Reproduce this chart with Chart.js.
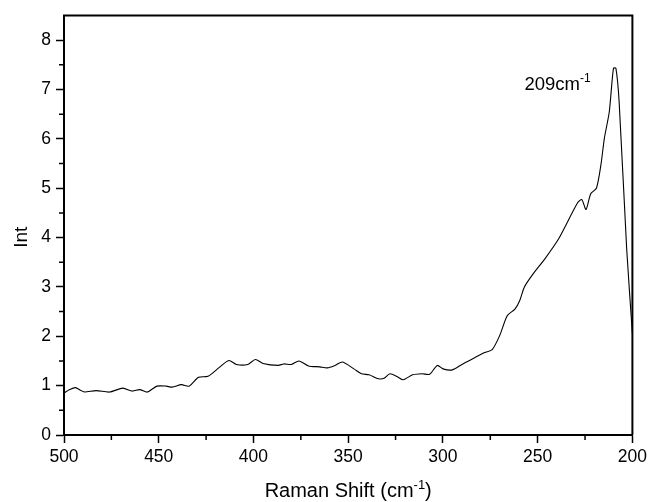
<!DOCTYPE html>
<html>
<head>
<meta charset="utf-8">
<script src="https://cdn.jsdelivr.net/npm/chart.js@4.4.0/dist/chart.umd.min.js"></script>
<style>
  html, body { margin: 0; padding: 0; background: #fff; }
  #wrap { width: 651px; height: 502px; }
</style>
</head>
<body>
<div id="wrap"><canvas id="chart" width="651" height="502"></canvas></div>
<script>
// Raman spectrum
const ramanShift = [
  500, 497, 494, 491, 489, 483, 476, 469, 464, 460, 456, 451, 446, 443, 438, 434,
  429, 424, 418, 413, 409, 403, 399, 395, 387, 384, 380, 376, 371, 365, 361, 357,
  353, 347, 343, 339, 334, 331, 328, 324, 321, 316, 311, 307, 303, 300, 295, 290,
  283, 278, 274, 270, 266, 262, 259.5, 257, 252.5, 246, 239, 229, 226.7, 224.5,
  222, 219, 216.6, 214.8, 212.2, 210, 208.7, 207, 203, 200
];
const intensity = [
  0.85, 0.92, 0.96, 0.90, 0.87, 0.90, 0.87, 0.95, 0.89, 0.92, 0.87, 0.99, 0.99, 0.97, 1.02, 0.99,
  1.17, 1.19, 1.37, 1.51, 1.43, 1.43, 1.53, 1.45, 1.41, 1.44, 1.43, 1.50, 1.40, 1.38, 1.36, 1.41,
  1.48, 1.34, 1.24, 1.22, 1.14, 1.15, 1.24, 1.18, 1.12, 1.22, 1.24, 1.23, 1.41, 1.34, 1.32, 1.43,
  1.57, 1.67, 1.73, 2.02, 2.42, 2.55, 2.72, 3.00, 3.26, 3.58, 3.97, 4.70, 4.77, 4.57,
  4.89, 5.00, 5.48, 6.01, 6.55, 7.43, 7.43, 6.75, 3.76, 2.05
];
const xMinorTicks = [475, 425, 375, 325, 275, 225];
const yMinorTicks = [0.5, 1.5, 2.5, 3.5, 4.5, 5.5, 6.5, 7.5];
// label starts at this x value, baseline at this y value
const peakLabel = { x: 257, y: 7.0, text: '209cm', sup: '-1' };

const FONT = '"Liberation Sans", Arial, Helvetica, sans-serif';

// text with a small raised part, e.g. cm^-1
function drawSup(ctx, parts, x, y, size, align) {
  ctx.save();
  ctx.textBaseline = 'alphabetic';
  ctx.textAlign = 'left';
  let total = 0;
  parts.forEach((p) => {
    ctx.font = (p.sup ? size * 0.65 : size) + 'px ' + FONT;
    p.w = ctx.measureText(p.t).width;
    total += p.w;
  });
  let cx = align === 'center' ? x - total / 2 : x;
  parts.forEach((p) => {
    ctx.font = (p.sup ? size * 0.65 : size) + 'px ' + FONT;
    ctx.fillText(p.t, cx, p.sup ? y - size * 0.42 : y);
    cx += p.w;
  });
  ctx.restore();
}

const framePlugin = {
  id: 'frame',
  afterDraw(chart) {
    const { ctx, chartArea: a, scales } = chart;
    ctx.save();
    ctx.strokeStyle = '#000';
    // top and right frame lines
    ctx.lineWidth = 2;
    ctx.beginPath();
    ctx.moveTo(a.left - 1, a.top);
    ctx.lineTo(a.right, a.top);
    ctx.lineTo(a.right, a.bottom);
    ctx.stroke();
    // minor ticks
    ctx.lineWidth = 1.5;
    ctx.beginPath();
    xMinorTicks.forEach((v) => {
      const px = scales.x.getPixelForValue(v);
      ctx.moveTo(px, a.bottom);
      ctx.lineTo(px, a.bottom + 5);
    });
    yMinorTicks.forEach((v) => {
      const py = scales.y.getPixelForValue(v);
      ctx.moveTo(a.left, py);
      ctx.lineTo(a.left - 5, py);
    });
    ctx.stroke();
    ctx.fillStyle = '#000';
    // axis titles
    drawSup(ctx, [{ t: 'Raman Shift (cm' }, { t: '-1', sup: true }, { t: ')' }],
      (a.left + a.right) / 2, 497, 20, 'center');
    ctx.save();
    ctx.translate(27, (a.top + a.bottom) / 2 + 12);
    ctx.rotate(-Math.PI / 2);
    ctx.font = '19px ' + FONT;
    ctx.textAlign = 'center';
    ctx.textBaseline = 'alphabetic';
    ctx.fillText('Int', 0, 0);
    ctx.restore();
    // peak annotation
    const lx = scales.x.getPixelForValue(peakLabel.x);
    const ly = scales.y.getPixelForValue(peakLabel.y);
    drawSup(ctx, [{ t: peakLabel.text }, { t: peakLabel.sup, sup: true }], lx, ly, 18.5, 'left');
    ctx.restore();
  }
};

new Chart(document.getElementById('chart'), {
  type: 'line',
  data: {
    datasets: [{
      data: ramanShift.map((x, i) => ({ x: x, y: intensity[i] })),
      borderColor: '#000',
      borderWidth: 1.1,
      pointRadius: 0,
      tension: 0.25,
      fill: false
    }]
  },
  options: {
    responsive: false,
    animation: false,
    layout: { padding: { left: 0, right: 16, top: 13, bottom: 0 } },
    plugins: { legend: { display: false }, tooltip: { enabled: false } },
    scales: {
      x: {
        type: 'linear',
        reverse: true,
        min: 200,
        max: 500,
        afterFit: (s) => { s.height = 67; },
        ticks: { stepSize: 50, color: '#000', padding: 4, maxRotation: 0, font: { family: FONT, size: 17.5 } },
        grid: { drawOnChartArea: false, tickLength: 8, tickWidth: 1.5, tickColor: '#000' },
        border: { display: true, color: '#000', width: 2 }
      },
      y: {
        min: 0,
        max: 8.5,
        afterFit: (s) => { s.width = 64; },
        afterBuildTicks: (s) => { s.ticks = s.ticks.filter((t) => Number.isInteger(t.value)); },
        ticks: { stepSize: 1, color: '#000', padding: 5, font: { family: FONT, size: 17.5 } },
        grid: { drawOnChartArea: false, tickLength: 8, tickWidth: 1.5, tickColor: '#000' },
        border: { display: true, color: '#000', width: 2 }
      }
    }
  },
  plugins: [framePlugin]
});
</script>
</body>
</html>
